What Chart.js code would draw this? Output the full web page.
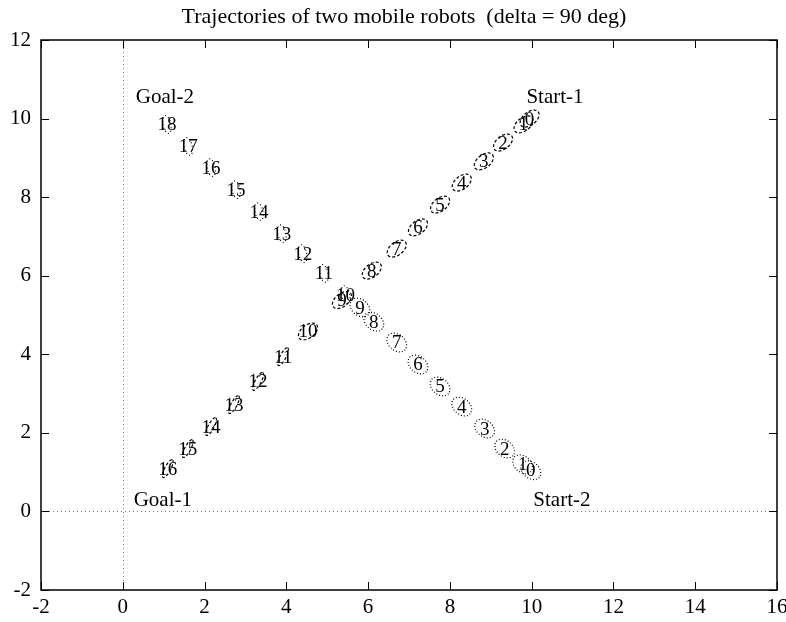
<!DOCTYPE html>
<html>
<head>
<meta charset="utf-8">
<script src="https://cdn.jsdelivr.net/npm/chart.js@4.4.1/dist/chart.umd.min.js"></script>
<style>
  html, body { margin: 0; padding: 0; background: #fff; }
  #wrap { width: 786px; height: 622px; }
</style>
</head>
<body>
<div id="wrap"><canvas id="c" width="786" height="622"></canvas></div>
<script>
// Axis ticks
const xTicks = [-2, 0, 2, 4, 6, 8, 10, 12, 14, 16];
const yTicks = [-2, 0, 2, 4, 6, 8, 10, 12];

// Robot 1: Start-1 (10,10) -> Goal-1 (1,1)
const robot1Steps = [0, 1, 2, 3, 4, 5, 6, 7, 8, 9, 10, 11, 12, 13, 14, 15, 16];
const robot1X = [9.95, 9.80, 9.30, 8.83, 8.29, 7.76, 7.22, 6.70, 6.09, 5.36, 4.53, 3.92, 3.31, 2.72, 2.16, 1.59, 1.10];
const robot1Y = [10.00, 9.85, 9.39, 8.91, 8.37, 7.81, 7.23, 6.69, 6.13, 5.38, 4.58, 3.94, 3.31, 2.72, 2.16, 1.60, 1.09];

// Robot 2: Start-2 (10,1) -> Goal-2 (1,10)
const robot2Steps = [0, 1, 2, 3, 4, 5, 6, 7, 8, 9, 10, 11, 12, 13, 14, 15, 16, 17, 18];
const robot2X = [9.98, 9.78, 9.34, 8.85, 8.29, 7.76, 7.22, 6.70, 6.14, 5.80, 5.45, 4.92, 4.40, 3.89, 3.33, 2.77, 2.16, 1.60, 1.08];
const robot2Y = [1.05, 1.20, 1.60, 2.11, 2.67, 3.18, 3.74, 4.30, 4.83, 5.19, 5.52, 6.06, 6.56, 7.07, 7.63, 8.19, 8.75, 9.29, 9.85];

// Endpoint captions
const endLabels = ['Start-1', 'Goal-1', 'Start-2', 'Goal-2'];
const endLabelX = [10.57, 0.98, 10.74, 1.03];
const endLabelY = [10.53, 0.28, 0.28, 10.53];

const titleText = 'Trajectories of two mobile robots  (delta = 90 deg)';

const SERIF = '"Liberation Serif", "DejaVu Serif", serif';

const toXY = (xs, ys) => xs.map((x, i) => ({ x: x, y: ys[i] }));

// Robot body outlines: dashed for robot 1, dotted for robot 2
function bodyShape(ds, i) {
  if (ds === 0) {
    return i <= 10
      ? { a: 11, b: 6.5, rot: -38, dash: [3, 2] }
      : { a: 10, b: 3, rot: -62, dash: [3, 2] };
  }
  return i <= 9
    ? { a: 11, b: 8, rot: 40, dash: [1, 2] }
    : { a: 9, b: 4, rot: 78, dash: [1, 2.5] };
}

const robotPlugin = {
  id: 'robots',
  beforeDatasetsDraw(chart) {
    const { ctx, chartArea: ca, scales } = chart;
    ctx.save();
    // title, centred a little right of the plot centre
    ctx.fillStyle = '#000';
    ctx.font = '22px ' + SERIF;
    ctx.textAlign = 'center';
    ctx.textBaseline = 'middle';
    ctx.fillText(titleText, (ca.left + ca.right) / 2 - 5, 17);
    // dotted zero axes
    ctx.strokeStyle = '#777';
    ctx.lineWidth = 1;
    ctx.setLineDash([1, 3]);
    const x0 = Math.round(scales.x.getPixelForValue(0)) + 0.5;
    const y0 = Math.round(scales.y.getPixelForValue(0)) + 0.5;
    ctx.beginPath();
    ctx.moveTo(x0, ca.top); ctx.lineTo(x0, ca.bottom);
    ctx.moveTo(ca.left, y0); ctx.lineTo(ca.right, y0);
    ctx.stroke();
    ctx.restore();
  },
  afterDatasetsDraw(chart) {
    const { ctx, chartArea: ca, scales } = chart;
    ctx.save();
    chart.data.datasets.forEach((d, ds) => {
      const meta = chart.getDatasetMeta(ds);
      meta.data.forEach((pt, i) => {
        const s = bodyShape(ds, i);
        ctx.save();
        ctx.strokeStyle = '#000';
        ctx.lineWidth = 1.2;
        ctx.setLineDash(s.dash);
        ctx.beginPath();
        ctx.ellipse(pt.x, pt.y, s.a, s.b, s.rot * Math.PI / 180, 0, Math.PI * 2);
        ctx.stroke();
        ctx.restore();
        ctx.fillStyle = '#000';
        ctx.font = '19px ' + SERIF;
        ctx.textAlign = 'center';
        ctx.textBaseline = 'middle';
        ctx.fillText(String(d.steps[i]), pt.x, pt.y + 1);
      });
    });
    // endpoint captions
    ctx.font = '21px ' + SERIF;
    ctx.textAlign = 'center';
    ctx.textBaseline = 'middle';
    ctx.fillStyle = '#000';
    endLabels.forEach((t, i) => {
      ctx.fillText(t, scales.x.getPixelForValue(endLabelX[i]), scales.y.getPixelForValue(endLabelY[i]));
    });
    // frame and inward ticks on all four sides
    ctx.strokeStyle = '#000';
    ctx.setLineDash([]);
    ctx.lineWidth = 1.5;
    ctx.strokeRect(ca.left, ca.top, ca.right - ca.left, ca.bottom - ca.top);
    ctx.lineWidth = 1;
    const tl = 8;
    ctx.beginPath();
    xTicks.forEach(v => {
      const px = Math.round(scales.x.getPixelForValue(v)) + 0.5;
      ctx.moveTo(px, ca.bottom); ctx.lineTo(px, ca.bottom - tl);
      ctx.moveTo(px, ca.top); ctx.lineTo(px, ca.top + tl);
    });
    yTicks.forEach(v => {
      const py = Math.round(scales.y.getPixelForValue(v)) + 0.5;
      ctx.moveTo(ca.left, py); ctx.lineTo(ca.left + tl, py);
      ctx.moveTo(ca.right, py); ctx.lineTo(ca.right - tl, py);
    });
    ctx.stroke();
    ctx.restore();
  }
};

new Chart(document.getElementById('c'), {
  type: 'scatter',
  data: {
    datasets: [
      { label: 'Robot 1', steps: robot1Steps, data: toXY(robot1X, robot1Y), pointRadius: 0, showLine: false },
      { label: 'Robot 2', steps: robot2Steps, data: toXY(robot2X, robot2Y), pointRadius: 0, showLine: false }
    ]
  },
  options: {
    responsive: false,
    animation: false,
    devicePixelRatio: 1,
    layout: { padding: { left: 0, right: 9, top: 40, bottom: 0 } },
    plugins: {
      legend: { display: false },
      tooltip: { enabled: false },
      title: { display: false }
    },
    scales: {
      x: {
        type: 'linear', min: -2, max: 16,
        afterBuildTicks: s => { s.ticks = xTicks.map(v => ({ value: v })); },
        afterFit: s => { s.height = 32; s.paddingRight = 0; s.paddingLeft = 0; },
        grid: { display: false, drawTicks: false },
        border: { display: false },
        ticks: { color: '#000', padding: 5, maxRotation: 0, font: { family: SERIF, size: 21 } }
      },
      y: {
        type: 'linear', min: -2, max: 12,
        afterBuildTicks: s => { s.ticks = yTicks.map(v => ({ value: v })); },
        afterFit: s => { s.width = 41; s.paddingTop = 0; s.paddingBottom = 0; },
        grid: { display: false, drawTicks: false },
        border: { display: false },
        ticks: { color: '#000', padding: 10, font: { family: SERIF, size: 21 } }
      }
    }
  },
  plugins: [robotPlugin]
});
</script>
</body>
</html>
